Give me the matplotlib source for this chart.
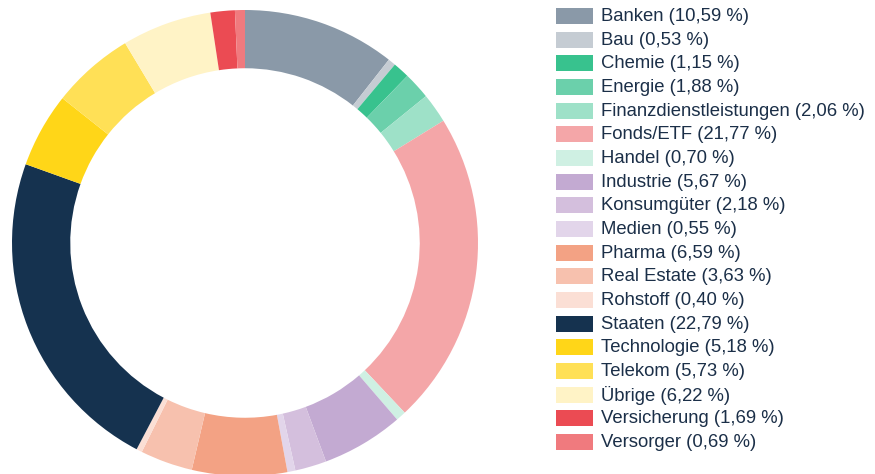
import matplotlib
matplotlib.use("Agg")
import matplotlib.pyplot as plt
from matplotlib.patches import Rectangle

categories = ["Banken", "Bau", "Chemie", "Energie", "Finanzdienstleistungen",
              "Fonds/ETF", "Handel", "Industrie", "Konsumgüter", "Medien",
              "Pharma", "Real Estate", "Rohstoff", "Staaten", "Technologie",
              "Telekom", "Übrige", "Versicherung", "Versorger"]
values = [10.59, 0.53, 1.15, 1.88, 2.06, 21.77, 0.70, 5.67, 2.18, 0.55,
          6.59, 3.63, 0.40, 22.79, 5.18, 5.73, 6.22, 1.69, 0.69]
colors = ["#8a99a8", "#c5ccd3", "#38c28e", "#6bd0ab", "#9ee1c8",
          "#f4a6a8", "#cff0e3", "#c3aad2", "#d4bfdd", "#e2d5ea",
          "#f3a284", "#f7c1ae", "#fbdfd5", "#15324f", "#ffd618",
          "#ffe056", "#fff3c6", "#eb4b53", "#f07a7e"]

W, H = 875, 474
fig = plt.figure(figsize=(W / 100, H / 100), dpi=100)
plt.rcParams['font.family'] = ['Liberation Sans', 'DejaVu Sans']

cx, cy, R = 245, 243, 233
ax = fig.add_axes([(cx - R) / W, (H - cy - R) / H, 2 * R / W, 2 * R / H])
ax.pie(values, colors=colors, startangle=90, counterclock=False,
       radius=1.0, wedgeprops=dict(width=0.25, linewidth=0))
ax.set_xlim(-1, 1)
ax.set_ylim(-1, 1)
ax.set_aspect('equal')
ax.axis('off')

# legend
lax = fig.add_axes([0, 0, 1, 1])
lax.set_xlim(0, W)
lax.set_ylim(H, 0)
lax.axis('off')
y0, dy = 16, 23.67
for i, (c, v, col) in enumerate(zip(categories, values, colors)):
    y = y0 + i * dy
    lax.add_patch(Rectangle((556, y - 8), 37, 16, facecolor=col, edgecolor='none'))
    label = f"{c} ({v:.2f} %)".replace('.', ',')
    lax.text(601, y + 0.5, label, fontsize=13.3, color="#1b2f48", va='center', ha='left')

fig.savefig("out.png", dpi=100)
